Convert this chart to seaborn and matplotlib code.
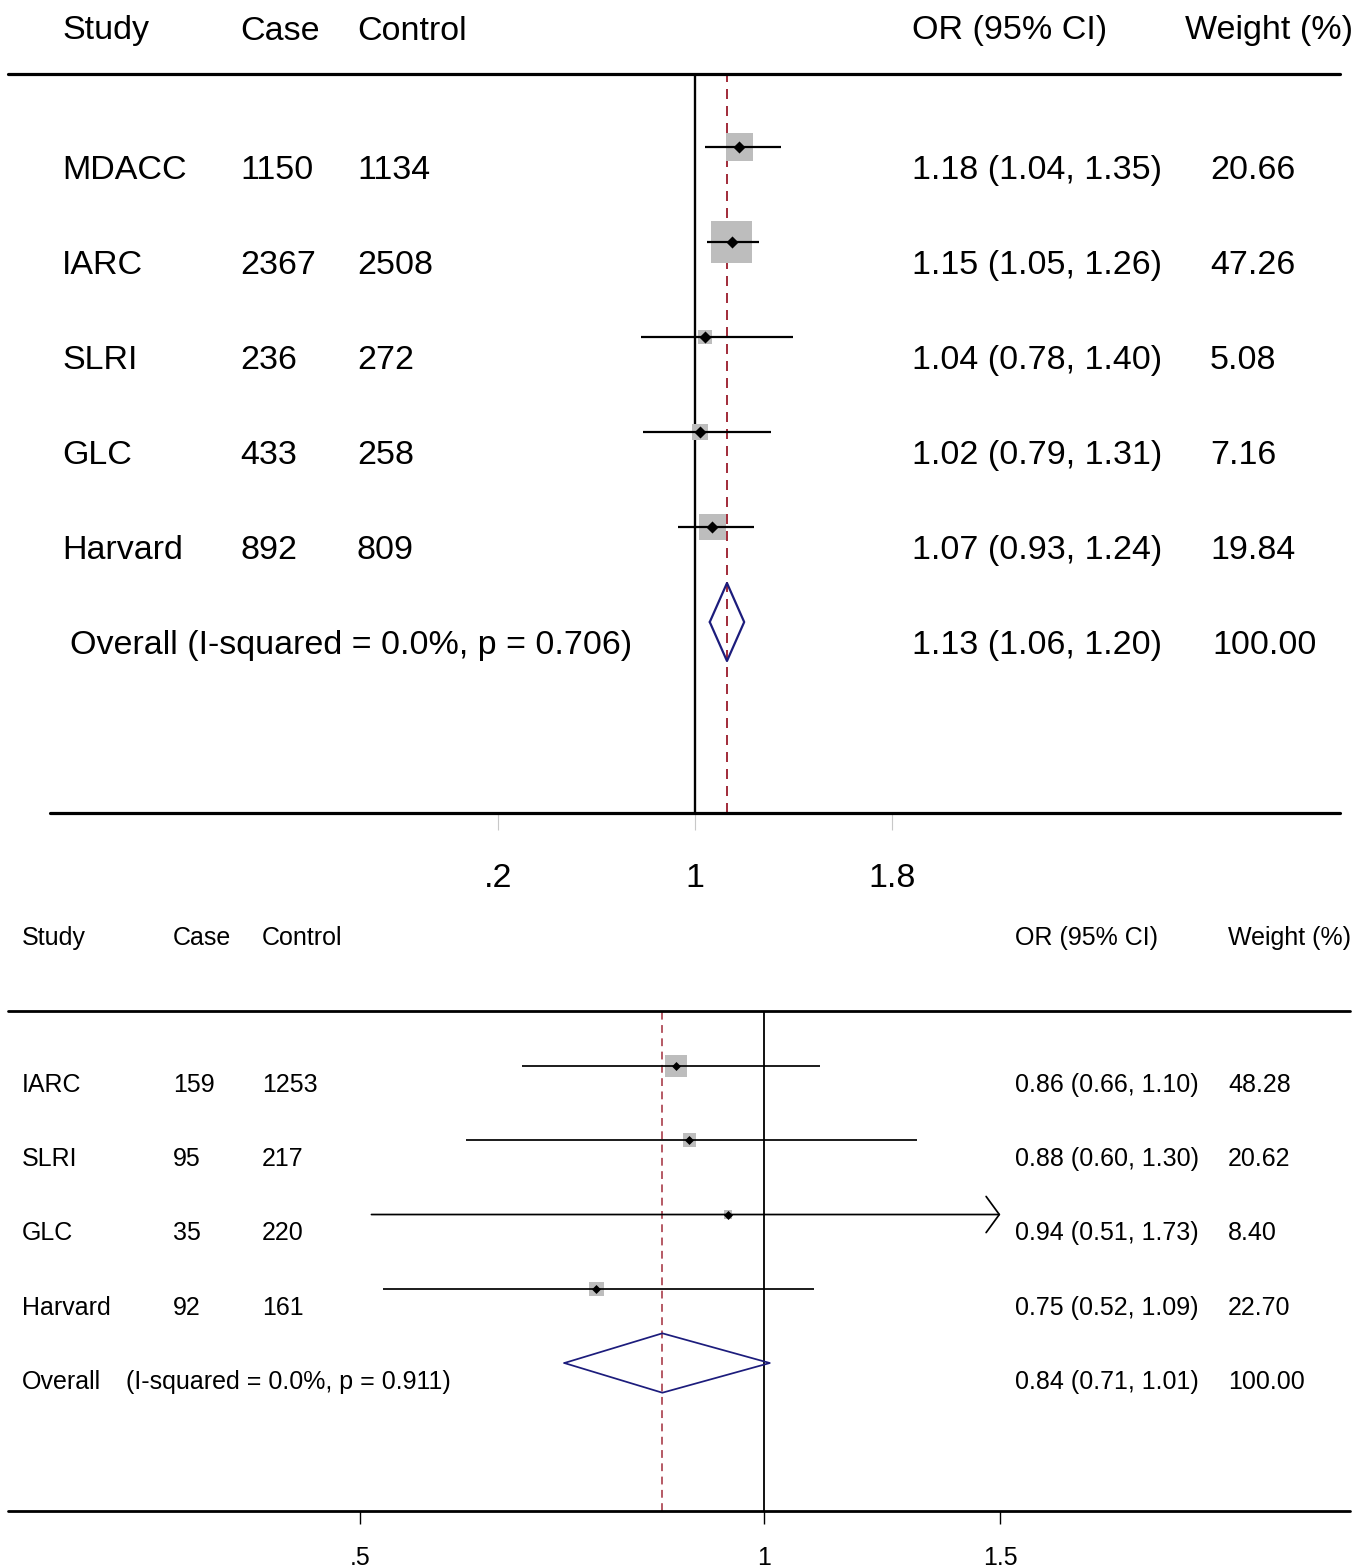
import numpy as np
import matplotlib
matplotlib.use("Agg")
import matplotlib.pyplot as plt
import matplotlib.transforms as mtransforms
from matplotlib.ticker import NullLocator
import seaborn as sns

# ---------------- data ----------------
# top panel (linear OR scale)
top_study = ["MDACC", "IARC", "SLRI", "GLC", "Harvard"]
top_case = ["1150", "2367", "236", "433", "892"]
top_control = ["1134", "2508", "272", "258", "809"]
top_or = [1.18, 1.15, 1.04, 1.02, 1.07]
top_lo = [1.04, 1.05, 0.78, 0.79, 0.93]
top_hi = [1.35, 1.26, 1.40, 1.31, 1.24]
top_weight = [20.66, 47.26, 5.08, 7.16, 19.84]
top_overall = (1.13, 1.06, 1.20)
top_overall_label = "Overall (I-squared = 0.0%, p = 0.706)"
top_ticks = [0.2, 1, 1.8]
top_ticklabels = [".2", "1", "1.8"]

# bottom panel (log OR scale)
bot_study = ["IARC", "SLRI", "GLC", "Harvard"]
bot_case = ["159", "95", "35", "92"]
bot_control = ["1253", "217", "220", "161"]
bot_or = [0.86, 0.88, 0.94, 0.75]
bot_lo = [0.66, 0.60, 0.51, 0.52]
bot_hi = [1.10, 1.30, 1.73, 1.09]
bot_weight = [48.28, 20.62, 8.40, 22.70]
bot_overall = (0.84, 0.71, 1.01)
bot_overall_note = "(I-squared = 0.0%, p = 0.911)"
bot_ticks = [0.5, 1, 1.5]
bot_ticklabels = [".5", "1", "1.5"]

# ---------------- style ----------------
sns.set_style("white")
plt.rcParams['font.family'] = ['Liberation Sans', 'DejaVu Sans']
plt.rcParams['text.color'] = 'black'
plt.rcParams['xtick.labelcolor'] = 'black'

W, H = 1372, 1568
fig = plt.figure(figsize=(W / 100, H / 100), dpi=100)

RED = "#a3303e"
NAVY = "#1c1c7c"
GREY = "#bdbdbd"


def fx(px):
    return px / W


def fy(py):
    return 1 - py / H


def fmt_ci(o, l, h):
    return f"{o:.2f} ({l:.2f}, {h:.2f})"


def forest(ax, ors, los, his, weights, overall, size_k, dot_s, lw, diamond_h, clip_hi):
    rows = np.arange(len(ors))
    # grey weight squares (area ~ weight)
    sns.scatterplot(x=ors, y=rows, size=weights, sizes=(0, size_k * 100), size_norm=(0, 100),
                    marker="s", color=GREY, linewidth=0, legend=False, ax=ax, zorder=2)
    # confidence intervals
    for r, l, h in zip(rows, los, his):
        if h > clip_hi:
            ax.annotate("", xy=(clip_hi, r), xytext=(l, r), zorder=3,
                        arrowprops=dict(arrowstyle="->,head_length=0.95,head_width=1.3",
                                        mutation_scale=10, lw=lw, color="black",
                                        shrinkA=0, shrinkB=0))
        else:
            ax.plot([l, h], [r, r], color="black", lw=lw, zorder=3, solid_capstyle="butt")
    # point estimates
    sns.scatterplot(x=ors, y=rows, marker="D", color="black", s=dot_s,
                    linewidth=0, legend=False, ax=ax, zorder=4)
    # overall diamond
    o, l, h = overall
    yo = len(ors)
    ax.plot([l, o, h, o, l], [yo, yo - diamond_h, yo, yo + diamond_h, yo],
            color=NAVY, lw=lw, zorder=4)
    # reference lines
    ax.axvline(1, color="black", lw=lw * 1.05, zorder=1)
    ax.axvline(o, color=RED, lw=lw * 0.9, ls=(0, (5, 3.5)), zorder=1)
    return yo


# ================= top panel =================
ax1 = fig.add_axes([fx(8), fy(813), fx(1332), (813 - 74) / H])
px1 = 246.0  # pixels per OR unit
ax1.set_xlim(1 + (8 - 695) / px1, 1 + (1340 - 695) / px1)
ax1.set_ylim(7.01, -0.768)
yo1 = forest(ax1, top_or, top_lo, top_hi, top_weight, top_overall,
             size_k=18.6, dot_s=38, lw=1.6, diamond_h=0.41, clip_hi=99)
for s in ax1.spines.values():
    s.set_visible(False)
ax1.set_yticks([])
ax1.axhline(-0.768, xmin=0, xmax=1, color="black", lw=2.3, clip_on=False)
ax1.axhline(7.01, xmin=42 / 1332, xmax=1, color="black", lw=2.3, clip_on=False)
ax1.set_xticks(top_ticks)
ax1.set_xticklabels(top_ticklabels, fontsize=24.5)
ax1.tick_params(axis="x", direction="out", length=12, width=0.8, color="#c8c8c8", pad=24, bottom=True)

fs1 = 24.5
tr1 = mtransforms.blended_transform_factory(fig.transFigure, ax1.transData)
off1 = 0.25
for i, (st, ca, co, o, l, h, w) in enumerate(zip(top_study, top_case, top_control,
                                                  top_or, top_lo, top_hi, top_weight)):
    y = i + off1
    ax1.text(fx(62), y, st, transform=tr1, fontsize=fs1, va="center")
    ax1.text(fx(240), y, ca, transform=tr1, fontsize=fs1, va="center")
    ax1.text(fx(357), y, co, transform=tr1, fontsize=fs1, va="center")
    ax1.text(fx(912), y, fmt_ci(o, l, h), transform=tr1, fontsize=fs1, va="center")
    ax1.text(fx(1210), y, f"{w:.2f}", transform=tr1, fontsize=fs1, va="center")
ax1.text(fx(70), yo1 + off1, top_overall_label, transform=tr1, fontsize=fs1, va="center")
ax1.text(fx(912), yo1 + off1, fmt_ci(*top_overall), transform=tr1, fontsize=fs1, va="center")
ax1.text(fx(1212), yo1 + off1, f"{100:.2f}", transform=tr1, fontsize=fs1, va="center")

for x, lab in [(62, "Study"), (240, "Case"), (357, "Control"), (912, "OR (95% CI)"), (1185, "Weight (%)")]:
    fig.text(fx(x), fy(31), lab, fontsize=fs1, va="center")

# ================= bottom panel =================
ax2 = fig.add_axes([fx(8), fy(1511), fx(1342), 500 / H])
k2 = 583.0  # pixels per ln(OR)
ax2.set_xscale("log")
ax2.set_xlim(np.exp((8 - 764) / k2), np.exp((1350 - 764) / k2))
ax2.set_ylim(5.993, -0.741)
yo2 = forest(ax2, bot_or, bot_lo, bot_hi, bot_weight, bot_overall,
             size_k=4.8, dot_s=21, lw=1.25, diamond_h=0.40, clip_hi=max(bot_ticks))
for s in ax2.spines.values():
    s.set_visible(False)
ax2.set_yticks([])
ax2.axhline(-0.741, color="black", lw=2.0, clip_on=False)
ax2.axhline(5.993, color="black", lw=2.0, clip_on=False)
ax2.xaxis.set_minor_locator(NullLocator())
ax2.set_xticks(bot_ticks)
ax2.set_xticklabels(bot_ticklabels, fontsize=18)
ax2.tick_params(axis="x", direction="out", length=9, width=1.0, color="black", pad=16, bottom=True)
ax2.get_xticklines()[0].set_color("#c8c8c8")

fs2 = 18
tr2 = mtransforms.blended_transform_factory(fig.transFigure, ax2.transData)
off2 = 0.255
for i, (st, ca, co, o, l, h, w) in enumerate(zip(bot_study, bot_case, bot_control,
                                                  bot_or, bot_lo, bot_hi, bot_weight)):
    y = i + off2
    ax2.text(fx(22), y, st, transform=tr2, fontsize=fs2, va="center")
    ax2.text(fx(173), y, ca, transform=tr2, fontsize=fs2, va="center")
    ax2.text(fx(262), y, co, transform=tr2, fontsize=fs2, va="center")
    ax2.text(fx(1015), y, fmt_ci(o, l, h), transform=tr2, fontsize=fs2, va="center")
    ax2.text(fx(1228), y, f"{w:.2f}", transform=tr2, fontsize=fs2, va="center")
ax2.text(fx(22), yo2 + off2, "Overall", transform=tr2, fontsize=fs2, va="center")
ax2.text(fx(126), yo2 + off2, bot_overall_note, transform=tr2, fontsize=fs2, va="center")
ax2.text(fx(1015), yo2 + off2, fmt_ci(*bot_overall), transform=tr2, fontsize=fs2, va="center")
ax2.text(fx(1228), yo2 + off2, f"{100:.2f}", transform=tr2, fontsize=fs2, va="center")

for x, lab in [(22, "Study"), (173, "Case"), (262, "Control"), (1015, "OR (95% CI)"), (1228, "Weight (%)")]:
    fig.text(fx(x), fy(938), lab, fontsize=fs2, va="center")

fig.savefig("out.png", dpi=100)
